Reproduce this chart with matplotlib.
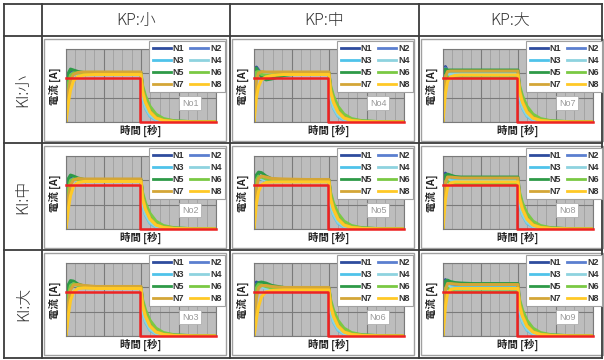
import matplotlib
matplotlib.use('Agg')
import matplotlib.pyplot as plt
from matplotlib.lines import Line2D
from matplotlib.patches import Rectangle
from matplotlib.ticker import MultipleLocator

plt.rcParams['font.family'] = ['Noto Sans CJK JP', 'DejaVu Sans']

W, H = 604, 360

kp_labels = ['KP:小', 'KP:中', 'KP:大']
ki_labels = ['KI:小', 'KI:中', 'KI:大']
series_names = ['N1', 'N2', 'N3', 'N4', 'N5', 'N6', 'N7', 'N8']
series_colors = ['#2e4c9e', '#5b7fcf', '#4fc3ea', '#8ed3df',
                 '#2e9a48', '#7ac943', '#d4a637', '#ffc926']

# reference (target) current
ref_t = [0, 0.49, 0.49, 1.0]
ref_i = [0.89, 0.89, 0.0, 0.0]

# time knots for the rise part and the decay part
t_rise = [0, 0.008, 0.016, 0.03, 0.05, 0.08, 0.12, 0.2, 0.35, 0.5]
t_fall = [0.51, 0.53, 0.56, 0.6, 0.65, 0.72, 0.85, 1.0]

fall_curves = [
    [0.6, 0.38, 0.2, 0.08, 0.03, 0.01, 0.0, 0.0],
    [0.6, 0.38, 0.2, 0.08, 0.03, 0.01, 0.0, 0.0],
    [0.5, 0.28, 0.12, 0.04, 0.01, 0.0, 0.0, 0.0],
    [0.52, 0.3, 0.14, 0.05, 0.015, 0.0, 0.0, 0.0],
    [0.7, 0.48, 0.28, 0.13, 0.05, 0.02, 0.005, 0.0],
    [0.75, 0.53, 0.32, 0.16, 0.07, 0.025, 0.005, 0.0],
    [0.66, 0.42, 0.22, 0.09, 0.035, 0.012, 0.0, 0.0],
    [0.62, 0.4, 0.2, 0.08, 0.03, 0.01, 0.0, 0.0],
]

rise_no1 = [
    [0, 0.55, 0.85, 1.0, 1.02, 1.01, 1.0, 1.0, 1.0, 1.0],
    [0, 0.5, 0.8, 0.97, 1.01, 1.0, 0.99, 0.99, 0.99, 0.99],
    [0, 0.45, 0.74, 0.94, 0.99, 0.99, 0.98, 0.98, 0.98, 0.98],
    [0, 0.4, 0.7, 0.91, 0.98, 0.98, 0.98, 0.98, 0.98, 0.98],
    [0, 0.7, 1.0, 1.08, 1.06, 1.03, 1.01, 1.01, 1.01, 1.01],
    [0, 0.5, 0.8, 0.96, 1.0, 1.0, 0.99, 0.99, 0.99, 0.99],
    [0, 0.35, 0.62, 0.86, 0.97, 1.01, 1.02, 1.02, 1.02, 1.02],
    [0, 0.2, 0.4, 0.65, 0.84, 0.93, 0.96, 0.97, 0.97, 0.97],
]
rise_no2 = [
    [0, 0.55, 0.87, 1.03, 1.04, 1.01, 1.0, 1.0, 1.0, 1.0],
    [0, 0.5, 0.82, 1.0, 1.03, 1.01, 0.99, 0.99, 0.99, 0.99],
    [0, 0.45, 0.76, 0.97, 1.02, 1.0, 0.98, 0.98, 0.98, 0.98],
    [0, 0.4, 0.72, 0.94, 1.0, 0.99, 0.98, 0.98, 0.98, 0.98],
    [0, 0.72, 1.03, 1.1, 1.08, 1.04, 1.01, 1.01, 1.01, 1.01],
    [0, 0.5, 0.82, 0.99, 1.02, 1.01, 0.99, 0.99, 0.99, 0.99],
    [0, 0.35, 0.64, 0.9, 1.0, 1.03, 1.02, 1.02, 1.02, 1.02],
    [0, 0.2, 0.42, 0.68, 0.87, 0.95, 0.97, 0.97, 0.97, 0.97],
]
rise_no3 = [
    [0, 0.55, 0.9, 1.07, 1.08, 1.03, 1.0, 0.99, 0.99, 0.99],
    [0, 0.5, 0.85, 1.04, 1.07, 1.03, 1.0, 0.99, 0.99, 0.99],
    [0, 0.45, 0.8, 1.02, 1.06, 1.02, 0.99, 0.98, 0.98, 0.98],
    [0, 0.4, 0.75, 0.99, 1.05, 1.02, 0.99, 0.98, 0.98, 0.98],
    [0, 0.72, 1.05, 1.13, 1.12, 1.06, 1.02, 1.0, 1.0, 1.0],
    [0, 0.5, 0.85, 1.03, 1.07, 1.03, 1.0, 0.99, 0.99, 0.99],
    [0, 0.35, 0.66, 0.94, 1.04, 1.05, 1.03, 1.01, 1.01, 1.01],
    [0, 0.2, 0.44, 0.72, 0.9, 0.97, 0.98, 0.97, 0.97, 0.97],
]
rise_no4 = [
    [0, 0.85, 1.12, 1.06, 0.98, 0.97, 0.98, 1.0, 1.0, 1.0],
    [0, 0.8, 1.08, 1.05, 0.98, 0.97, 0.98, 0.99, 0.99, 0.99],
    [0, 0.7, 1.0, 1.02, 0.98, 0.97, 0.98, 0.98, 0.98, 0.98],
    [0, 0.65, 0.96, 1.0, 0.97, 0.97, 0.98, 0.98, 0.98, 0.98],
    [0, 0.9, 1.1, 1.02, 0.92, 0.86, 0.88, 0.95, 1.0, 1.0],
    [0, 0.75, 1.02, 1.03, 0.97, 0.95, 0.96, 0.99, 0.99, 0.99],
    [0, 0.5, 0.85, 1.0, 1.03, 1.02, 1.02, 1.02, 1.02, 1.02],
    [0, 0.25, 0.5, 0.72, 0.86, 0.92, 0.95, 0.97, 0.97, 0.97],
]
rise_no5 = [
    [0, 0.85, 1.1, 1.1, 1.04, 1.0, 0.99, 0.99, 0.99, 0.99],
    [0, 0.8, 1.06, 1.08, 1.03, 1.0, 0.99, 0.99, 0.99, 0.99],
    [0, 0.7, 0.98, 1.05, 1.03, 0.99, 0.98, 0.98, 0.98, 0.98],
    [0, 0.65, 0.94, 1.03, 1.02, 0.99, 0.98, 0.98, 0.98, 0.98],
    [0, 0.85, 1.1, 1.16, 1.15, 1.08, 1.02, 1.0, 1.0, 1.0],
    [0, 0.75, 1.0, 1.08, 1.06, 1.02, 1.0, 0.99, 0.99, 0.99],
    [0, 0.5, 0.85, 1.03, 1.08, 1.06, 1.03, 1.02, 1.01, 1.01],
    [0, 0.25, 0.52, 0.76, 0.9, 0.95, 0.96, 0.96, 0.96, 0.96],
]
rise_no6 = [
    [0, 0.85, 1.1, 1.08, 1.03, 1.0, 0.98, 0.97, 0.97, 0.97],
    [0, 0.8, 1.05, 1.06, 1.02, 0.99, 0.97, 0.97, 0.97, 0.97],
    [0, 0.7, 0.97, 1.03, 1.01, 0.98, 0.96, 0.96, 0.96, 0.96],
    [0, 0.65, 0.93, 1.01, 1.0, 0.97, 0.96, 0.96, 0.96, 0.96],
    [0, 0.8, 1.04, 1.09, 1.1, 1.08, 1.03, 0.99, 0.98, 0.98],
    [0, 0.72, 0.98, 1.05, 1.04, 1.01, 0.98, 0.97, 0.97, 0.97],
    [0, 0.45, 0.78, 0.98, 1.03, 1.03, 1.01, 0.99, 0.99, 0.99],
    [0, 0.15, 0.35, 0.6, 0.8, 0.9, 0.93, 0.94, 0.94, 0.94],
]
rise_no7 = [
    [0, 1.0, 1.13, 1.04, 1.02, 1.03, 1.03, 1.03, 1.03, 1.03],
    [0, 0.95, 1.1, 1.03, 1.01, 1.02, 1.02, 1.02, 1.02, 1.02],
    [0, 0.85, 1.02, 1.0, 0.99, 0.99, 0.99, 0.99, 0.99, 0.99],
    [0, 0.8, 0.98, 0.98, 0.97, 0.97, 0.97, 0.97, 0.97, 0.97],
    [0, 0.95, 1.08, 1.06, 1.06, 1.06, 1.06, 1.06, 1.06, 1.06],
    [0, 0.75, 0.95, 0.92, 0.9, 0.9, 0.9, 0.9, 0.9, 0.9],
    [0, 0.6, 0.92, 1.03, 1.04, 1.04, 1.04, 1.04, 1.04, 1.04],
    [0, 0.3, 0.58, 0.82, 0.92, 0.95, 0.96, 0.96, 0.96, 0.96],
]
rise_no8 = [
    [0, 1.0, 1.14, 1.08, 1.04, 1.03, 1.03, 1.03, 1.03, 1.03],
    [0, 0.95, 1.1, 1.07, 1.03, 1.02, 1.02, 1.02, 1.02, 1.02],
    [0, 0.85, 1.03, 1.04, 1.0, 0.99, 0.99, 0.99, 0.99, 0.99],
    [0, 0.8, 0.99, 1.02, 0.98, 0.97, 0.97, 0.97, 0.97, 0.97],
    [0, 0.95, 1.1, 1.12, 1.1, 1.07, 1.06, 1.06, 1.06, 1.06],
    [0, 0.75, 0.97, 0.97, 0.93, 0.91, 0.91, 0.91, 0.91, 0.91],
    [0, 0.6, 0.94, 1.06, 1.06, 1.05, 1.04, 1.04, 1.04, 1.04],
    [0, 0.3, 0.6, 0.85, 0.94, 0.96, 0.96, 0.96, 0.96, 0.96],
]
rise_no9 = [
    [0, 1.0, 1.15, 1.1, 1.05, 1.04, 1.03, 1.03, 1.03, 1.03],
    [0, 0.95, 1.12, 1.08, 1.04, 1.03, 1.02, 1.02, 1.02, 1.02],
    [0, 0.85, 1.05, 1.05, 1.01, 0.99, 0.99, 0.99, 0.99, 0.99],
    [0, 0.8, 1.0, 1.03, 0.99, 0.97, 0.97, 0.97, 0.97, 0.97],
    [0, 0.95, 1.12, 1.14, 1.11, 1.09, 1.08, 1.07, 1.07, 1.07],
    [0, 0.75, 0.98, 0.98, 0.93, 0.9, 0.9, 0.9, 0.9, 0.9],
    [0, 0.6, 0.95, 1.07, 1.07, 1.06, 1.05, 1.05, 1.05, 1.05],
    [0, 0.3, 0.6, 0.86, 0.95, 0.97, 0.97, 0.97, 0.97, 0.97],
]
panel_rise = {1: rise_no1, 2: rise_no2, 3: rise_no3, 4: rise_no4, 5: rise_no5,
              6: rise_no6, 7: rise_no7, 8: rise_no8, 9: rise_no9}

# table grid (pixels)
col_x = [4, 42, 230, 419, 602]
row_y = [4, 36, 143, 250, 358]

fig = plt.figure(figsize=(W / 100, H / 100), dpi=100)
bg = fig.add_axes([0, 0, 1, 1])
bg.set_xlim(0, W)
bg.set_ylim(H, 0)
bg.axis('off')

line_kw = dict(color='#3c3c3c', lw=1.3)
for x in col_x:
    bg.plot([x, x], [row_y[0], row_y[-1]], **line_kw)
for y in row_y:
    bg.plot([col_x[0], col_x[-1]], [y, y], **line_kw)

for j, lab in enumerate(kp_labels):
    bg.text((col_x[j + 1] + col_x[j + 2]) / 2, 20, lab, ha='center', va='center',
            fontsize=11.5, fontweight='light', color='#333333')
for i, lab in enumerate(ki_labels):
    bg.text(23, (row_y[i + 1] + row_y[i + 2]) / 2, lab, ha='center', va='center',
            rotation=90, fontsize=11.5, fontweight='light', color='#333333')


def px_axes(x0, y0, x1, y1):
    return fig.add_axes([x0 / W, 1 - y1 / H, (x1 - x0) / W, (y1 - y0) / H])


# legend entries are filled column by column: reorder so rows read N1 N2 / N3 N4 ...
leg_order = [0, 2, 4, 6, 1, 3, 5, 7]

for col in range(3):
    for row in range(3):
        no = col * 3 + row + 1
        cx, cy = col_x[col + 1], row_y[row + 1]

        bg.add_patch(Rectangle((cx + 1.5, cy + 3), 182.5, 102, fill=False,
                               edgecolor='#a0a0a0', lw=1))
        bg.text(cx + 13, cy + 50, '電流 [A]', rotation=90, ha='center', va='center',
                fontsize=7.5, fontweight='bold', color='#222222')
        bg.text(cx + 99, cy + 94.5, '時間 [秒]', ha='center', va='center',
                fontsize=7.5, fontweight='bold', color='#222222')

        ax = px_axes(cx + 24, cy + 12.5, cx + 174, cy + 86)
        ax.set_facecolor('#bdbdbd')
        ax.set_xlim(0, 1)
        ax.set_ylim(0, 1.5)
        ax.xaxis.set_major_locator(MultipleLocator(0.25))
        ax.xaxis.set_minor_locator(MultipleLocator(1 / 16))
        ax.yaxis.set_major_locator(MultipleLocator(0.5))
        ax.grid(True, which='major', color='#7a7a7a', lw=0.8)
        ax.grid(True, which='minor', axis='x', color='#a0a0a0', lw=0.6)
        ax.tick_params(which='both', length=0, labelbottom=False, labelleft=False)
        for s in ax.spines.values():
            s.set_color('#7a7a7a')
            s.set_linewidth(0.8)

        rise = panel_rise[no]
        for k in range(8):
            ax.plot(t_rise + t_fall, rise[k] + fall_curves[k],
                    color=series_colors[k], lw=2.2, solid_joinstyle='round')
        ax.plot(ref_t, ref_i, color='#ee2222', lw=1.8, zorder=5, clip_on=False)

        handles = [Line2D([], [], color=series_colors[k], lw=2) for k in leg_order]
        names = [series_names[k] for k in leg_order]
        leg = ax.legend(handles, names, ncol=2, loc='upper right',
                        bbox_to_anchor=(1.06, 1.1), bbox_transform=ax.transAxes,
                        fontsize=6.5, frameon=True, fancybox=False, framealpha=1,
                        edgecolor='#a0a0a0', borderpad=0.35, labelspacing=0.32,
                        handlelength=2.0, handletextpad=0.2, columnspacing=0.7,
                        borderaxespad=0)
        leg.get_frame().set_linewidth(0.8)
        leg.set_zorder(10)
        for t in leg.get_texts():
            t.set_family('Liberation Sans')
            t.set_fontweight('bold')
            t.set_color('#333333')

        ax.text(0.827, 0.258, 'No%d' % no, transform=ax.transAxes, ha='center',
                va='center', fontsize=6.5, color='#999999', family='Liberation Sans',
                bbox=dict(facecolor='white', edgecolor='#b0b0b0', lw=0.6,
                          boxstyle='square,pad=0.3'), zorder=8)

fig.savefig('out.png', dpi=100)
